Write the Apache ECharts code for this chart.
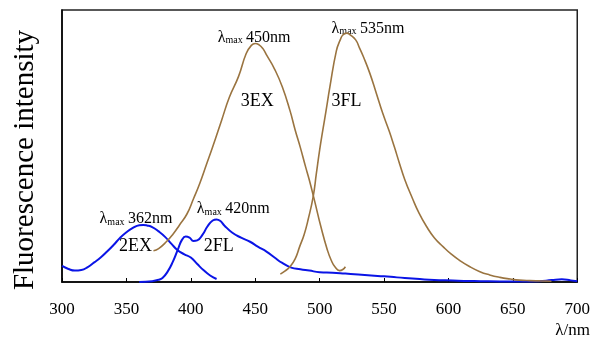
<!DOCTYPE html>
<html><head><meta charset="utf-8">
<script src="https://cdn.jsdelivr.net/npm/echarts@6/dist/echarts.min.js"></script>
<style>html,body{margin:0;padding:0;background:#fff}#c{width:593px;height:344px}</style>
</head><body><div id="c"></div>
<script>
// x ticks
var xTicks = [300, 350, 400, 450, 500, 550, 600, 650, 700];
// 2EX excitation (blue)  [wavelength nm, intensity]
var ex2 = [[300,5.9],[305,4.8],[310,4.2],[315,4.4],[320,5.5],[325,7.2],[330,9.0],[335,11.2],[340,13.6],[345,16.2],[350,18.3],[355,19.9],[360,20.9],[363,21.0],[366,20.8],[370,20.2],[375,18.6],[380,16.6],[385,14.0],[390,11.6],[395,10.2],[400,9.0],[405,6.6],[410,4.3],[415,2.4],[420,1.1]];
// 2FL fluorescence (blue)
var fl2 = [[360,0],[370,0.3],[375,0.8],[378,1.5],[382,3.8],[386,7.4],[390,12.0],[393,15.4],[396,16.7],[399,16.3],[402,15.1],[405,15.3],[409,17.3],[413,20.5],[417,22.6],[420,23.0],[423,22.4],[426,20.8],[432,18.2],[439,16.3],[446,14.8],[452,13.0],[459,11.1],[465,9.0],[471,7.0],[478,5.3],[485,4.7],[492,4.2],[500,3.6],[510,3.4],[520,3.1],[530,2.8],[540,2.4],[550,2.1],[560,1.7],[572,1.3],[585,0.8],[598,0.6],[612,0.4],[625,0.3],[640,0.2],[655,0.2],[670,0.3],[680,0.7],[688,1.0],[695,0.6],[700,0.3]];
// 3EX excitation (brown)
var ex3 = [[371,11.5],[375,12.3],[381,14.8],[386,17.5],[391,20.8],[397,25.0],[402,30.5],[407,36.3],[412,43.0],[417,49.7],[424,59.6],[430,68.0],[437,75.5],[443,84.0],[447,87.0],[450,87.7],[453,87.2],[456,85.8],[459,83.3],[465,78.3],[471,71.8],[477,63.0],[481,55.9],[485,49.5],[489,42.5],[492,37.5],[496,30.0],[501,20.3],[506,11.8],[509,8.0],[512,5.5],[515.5,4.2],[518,4.6],[520,5.6]];
// 3FL fluorescence (brown)
var fl3 = [[469.5,2.9],[473,4.0],[477,5.6],[481,8.5],[484.5,13.0],[488,17.5],[491,22.8],[495,31.4],[497.5,40.0],[500,48.5],[502.5,55.9],[505,63.0],[508,71.8],[513,85.0],[516,89.0],[518,90.8],[521,91.5],[524,90.8],[528,89.0],[531,86.0],[534,82.8],[539,76.7],[544,69.4],[549,62.0],[554,55.5],[558,49.7],[562,43.6],[566,37.8],[572,30.8],[577,25.5],[583,20.4],[589,16.3],[596,12.9],[602,10.3],[608.5,8.0],[616,5.8],[624,3.9],[632,2.6],[640,1.7],[648,1.1],[655,0.7],[663,0.5],[671,0.4],[680,0.3]];
// annotations: [nm, intensity, text]
var peakLabels = [[329.2,23.5,'362nm'],[404.7,27.2,'420nm'],[420.9,90.2,'450nm'],[509.3,93.5,'535nm']];
var curveLabels = [[344.2,13.3,'2EX'],[410,13.3,'2FL'],[438.8,66.5,'3EX'],[509.3,66.5,'3FL']];
var yTitle = 'Fluorescence intensity';
var xTitle = 'λ/nm';

var SERIF = '"Liberation Serif","Times New Roman",serif';
var BLUE = '#0a14e6', BROWN = '#9a7440';
var chart = echarts.init(document.getElementById('c'), null, {renderer:'canvas'});
function line(d, c, w){return {type:'line', data:d, showSymbol:false, smooth:0.5, lineStyle:{color:c,width:w}, silent:true, animation:false};}
chart.setOption({
  animation:false,
  grid:{left:62, right:15, top:10, bottom:62, show:true, borderColor:'#222', borderWidth:1.5},
  xAxis:{type:'value', min:300, max:700, interval:50,
    axisLine:{lineStyle:{color:'#000', width:1.5}},
    axisTick:{inside:true, length:4, lineStyle:{color:'#000'}},
    splitLine:{show:false},
    axisLabel:{color:'#000', fontFamily:SERIF, fontSize:17, margin:19,
      formatter:function(v){return xTicks.indexOf(v)>=0 ? String(v) : '';}}},
  yAxis:{type:'value', min:0, max:100, axisLine:{show:true, lineStyle:{color:'#000', width:1.5}},
    axisTick:{show:false}, axisLabel:{show:false}, splitLine:{show:false}},
  series:[line(ex2,BLUE,2), line(fl2,BLUE,2), line(ex3,BROWN,1.6), line(fl3,BROWN,1.6)]
});
var g = [];
peakLabels.forEach(function(p){
  var pt = chart.convertToPixel({gridIndex:0}, [p[0], p[1]]);
  g.push({type:'text', x:pt[0], y:pt[1], silent:true, style:{
    text:'{l|λ}{s|max} {n|'+p[2]+'}', align:'left', verticalAlign:'middle',
    rich:{l:{fontFamily:SERIF,fontSize:16,lineHeight:18,verticalAlign:'bottom',fill:'#000'},
          s:{fontFamily:SERIF,fontSize:10,lineHeight:12,verticalAlign:'bottom',fill:'#000'},
          n:{fontFamily:SERIF,fontSize:16,lineHeight:18,verticalAlign:'bottom',fill:'#000'}}}});
});
curveLabels.forEach(function(p){
  var pt = chart.convertToPixel({gridIndex:0}, [p[0], p[1]]);
  g.push({type:'text', x:pt[0], y:pt[1], silent:true, style:{text:p[2], fontFamily:SERIF, fontSize:18, fill:'#000', align:'left', verticalAlign:'middle'}});
});
g.push({type:'text', x:25, y:160, rotation:Math.PI/2, silent:true, style:{text:yTitle, fontFamily:SERIF, fontSize:29, fill:'#000', align:'center', verticalAlign:'middle'}});
g.push({type:'text', right:3, top:322, silent:true, style:{text:xTitle, fontFamily:SERIF, fontSize:17, fill:'#000'}});
chart.setOption({graphic:g});
</script></body></html>
